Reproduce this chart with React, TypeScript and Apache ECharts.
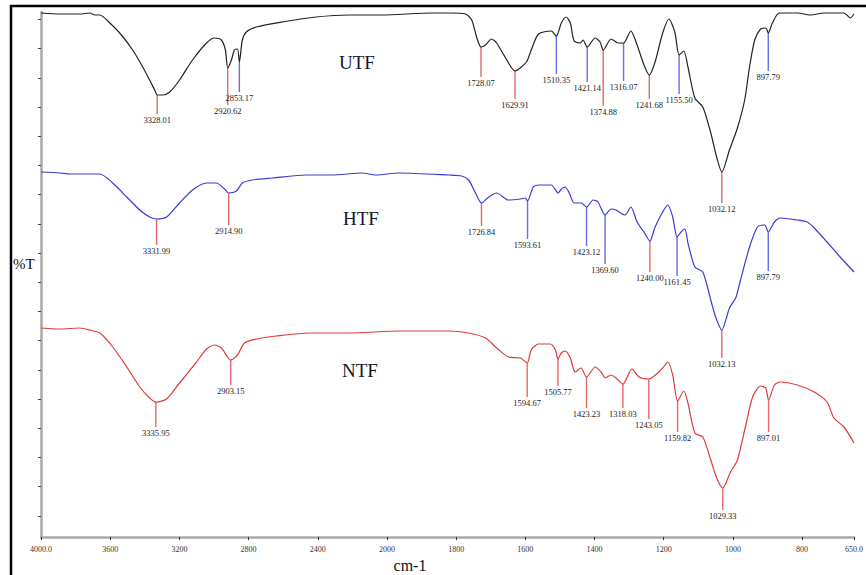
import { useEffect, useRef } from "react";
import * as echarts from "echarts";

// x axis tick wavenumbers (cm-1) and their printed labels
const X_TICK_WAVENUMBERS = [4000, 3600, 3200, 2800, 2400, 2000, 1800, 1600, 1400, 1200, 1000, 800, 650];
const X_TICK_LABELS = ["4000.0", "3600", "3200", "2800", "2400", "2000", "1800", "1600", "1400", "1200", "1000", "800", "650.0"];

// spectra: [wavenumber cm-1, %T (arbitrary offset units)]
const UTF = [
  [4000, 524], [3890, 523], [3775, 523], [3718, 524], [3689, 522], [3660, 522], [3602, 514], [3545, 504],
  [3470, 487], [3412, 470], [3372, 457], [3340, 446], [3328.01, 442], [3297, 442], [3256, 445], [3199, 457],
  [3124, 477], [3043, 494], [2997, 499], [2957, 497], [2934, 487], [2920.62, 469], [2899, 477], [2882, 487],
  [2864, 488], [2853.17, 475], [2836, 497], [2813, 505], [2755, 510], [2605, 515], [2409, 520], [2219, 522],
  [2029, 522], [1870, 524], [1821, 524], [1773, 523], [1755, 517], [1741, 500], [1728.07, 490], [1715, 492],
  [1698, 498], [1683, 494], [1657, 479], [1629.91, 466], [1597, 475], [1583, 487], [1562, 503], [1525, 506],
  [1510.35, 501], [1496, 514], [1482, 520], [1470, 514], [1459, 496], [1441, 494], [1433, 497], [1421.14, 490],
  [1398, 499], [1384, 495], [1374.88, 487], [1352, 498], [1332, 494], [1316.07, 494], [1295, 506], [1280, 495],
  [1257, 472], [1241.68, 462], [1225, 475], [1203, 504], [1185, 518], [1168, 505], [1155.5, 482], [1142, 486],
  [1130, 470], [1110, 439], [1087, 430], [1064, 404], [1047, 380], [1032.12, 365], [1010, 387], [987, 409],
  [966, 437], [952, 470], [937, 497], [920, 508], [905, 509], [897.79, 504], [886, 514], [866, 524],
  [814, 524], [776, 522], [736, 524], [679, 524], [661, 519], [650, 523],
];
const HTF = [
  [4000, 365], [3890, 364], [3833, 363], [3718, 363], [3660, 363], [3585, 354], [3504, 340], [3429, 327],
  [3372, 320], [3331.99, 318], [3274, 320], [3199, 334], [3124, 347], [3043, 354], [2986, 354], [2939, 348],
  [2914.9, 344], [2870, 346], [2836, 354], [2778, 357], [2663, 359], [2467, 362], [2317, 362], [2144, 364],
  [2063, 362], [1965, 364], [1821, 362], [1784, 361], [1764, 357], [1744, 344], [1726.84, 334], [1706, 340],
  [1683, 344], [1649, 337], [1614, 338], [1600, 339], [1593.61, 336], [1577, 350], [1562, 352], [1525, 352],
  [1505, 344], [1496, 348], [1485, 350], [1473, 344], [1459, 334], [1439, 334], [1423.12, 330], [1404, 337],
  [1390, 335], [1369.6, 322], [1352, 328], [1338, 327], [1312, 322], [1295, 330], [1277, 315], [1257, 305],
  [1240.0, 296], [1225, 310], [1203, 325], [1188, 332], [1174, 320], [1161.45, 300], [1150, 305], [1139, 308],
  [1130, 294], [1110, 270], [1087, 265], [1064, 237], [1050, 220], [1032.13, 207], [1010, 229], [992, 239],
  [978, 257], [952, 290], [929, 310], [908, 312], [897.79, 305], [880, 315], [863, 319], [814, 317],
  [785, 315], [765, 309], [728, 295], [690, 280], [650, 265],
];
const NTF = [
  [4000, 209], [3890, 208], [3775, 209], [3718, 207], [3660, 204], [3585, 190], [3504, 170], [3429, 150],
  [3372, 139], [3335.95, 135], [3274, 138], [3199, 154], [3101, 175], [3043, 188], [2997, 192], [2957, 189],
  [2922, 180], [2903.15, 177], [2864, 182], [2824, 194], [2755, 198], [2640, 201], [2449, 204], [2219, 204],
  [1965, 206], [1821, 206], [1764, 204], [1715, 199], [1686, 190], [1649, 180], [1614, 179], [1594.67, 174],
  [1583, 187], [1562, 193], [1528, 193], [1513, 187], [1505.77, 178], [1496, 184], [1485, 186], [1470, 179],
  [1456, 165], [1439, 169], [1423.23, 160], [1398, 170], [1381, 165], [1369, 159], [1352, 162], [1338, 159],
  [1318.03, 153], [1292, 168], [1271, 160], [1243.05, 158], [1217, 164], [1203, 169], [1188, 175], [1174, 162],
  [1159.82, 136], [1142, 146], [1130, 134], [1110, 104], [1087, 100], [1064, 77], [1047, 59], [1029.33, 49],
  [1007, 65], [987, 77], [964, 110], [943, 140], [920, 151], [905, 149], [897.01, 137], [880, 152],
  [863, 155], [814, 152], [765, 145], [728, 135], [708, 119], [679, 110], [650, 94],
];

// labelled peaks (cm-1) and marker colour class (r = red, b = blue)
const UTF_PEAKS = [3328.01, 2920.62, 2853.17, 1728.07, 1629.91, 1510.35, 1421.14, 1374.88, 1316.07, 1241.68, 1155.5, 1032.12, 897.79];
const UTF_PEAK_KIND = ["r", "r", "b", "r", "r", "b", "b", "r", "b", "r", "b", "r", "b"];
const HTF_PEAKS = [3331.99, 2914.9, 1726.84, 1593.61, 1423.12, 1369.6, 1240.0, 1161.45, 1032.13, 897.79];
const HTF_PEAK_KIND = ["r", "r", "r", "b", "b", "b", "r", "b", "r", "b"];
const NTF_PEAKS = [3335.95, 2903.15, 1594.67, 1505.77, 1423.23, 1318.03, 1243.05, 1159.82, 1029.33, 897.01];
const NTF_PEAK_KIND = ["r", "r", "r", "r", "r", "r", "r", "r", "r", "r"];

// layout: marker stem lengths in px
const UTF_STEMS = [19, 37, 30, 30, 28, 38, 35, 56, 38, 24, 39, 31, 38];
const HTF_STEMS = [26, 32, 23, 38, 39, 49, 31, 39, 28, 39];
const NTF_STEMS = [25, 25, 34, 27, 31, 24, 40, 31, 22, 32];

// split-scale axis: 4000-2000 at 400 per division, 2000-650 at 200 per division
const toPos = (w: number) => (w >= 2000 ? (4000 - w) / 400 : 5 + (2000 - w) / 200);

function valueAt(curve: number[][], w: number) {
  for (let i = 0; i < curve.length - 1; i++) {
    const [w0, v0] = curve[i];
    const [w1, v1] = curve[i + 1];
    if (w <= w0 && w >= w1) {
      if (w0 === w1) return v0;
      return v0 + ((w0 - w) / (w0 - w1)) * (v1 - v0);
    }
  }
  return curve[curve.length - 1][1];
}

const STEM_COLORS: Record<string, string> = { r: "#e8676b", b: "#6b6bee" };

export default function App() {
  const ref = useRef<HTMLDivElement>(null);

  useEffect(() => {
    if (!ref.current) return;
    const chart = echarts.init(ref.current, undefined, { renderer: "svg" });

    const lineSeries = (name: string, data: number[][], color: string) => ({
      name,
      type: "line",
      data: data.map(([w, v]) => [toPos(w), v]),
      showSymbol: false,
      smooth: 0.25,
      lineStyle: { color, width: 1.2 },
      z: 3,
    });

    const peakSeries = (curve: number[][], peaks: number[], kinds: string[], stems: number[]) => ({
      type: "custom",
      clip: false,
      z: 2,
      data: peaks.map((w) => [toPos(w), valueAt(curve, w)]),
      encode: { x: 0, y: 1 },
      renderItem: (params: any, api: any) => {
        const i = params.dataIndex;
        const p = api.coord([api.value(0), api.value(1)]);
        const stem = stems[i];
        return {
          type: "group",
          children: [
            {
              type: "line",
              shape: { x1: p[0], y1: p[1], x2: p[0], y2: p[1] + stem },
              style: { stroke: STEM_COLORS[kinds[i]], lineWidth: 1.4 },
            },
            {
              type: "text",
              x: p[0],
              y: p[1] + stem + 1,
              style: {
                text: peaks[i].toFixed(2),
                fill: "#222",
                font: '8.5px "Liberation Serif"',
                align: "center",
                verticalAlign: "top",
              },
            },
          ],
        };
      },
    });

    const yTicks: number[] = [];
    for (let k = 0; k < 18; k++) yTicks.push(517.5 - 29.2 * k);

    chart.setOption({
      animation: false,
      backgroundColor: "#ffffff",
      grid: { left: 41, right: 9, top: 12, bottom: 38 },
      xAxis: {
        type: "value",
        min: 0,
        max: toPos(650),
        axisLine: { lineStyle: { color: "#a9a9a9", width: 2.5 } },
        axisTick: {
          customValues: X_TICK_WAVENUMBERS.map(toPos),
          length: 3,
          lineStyle: { color: "#333", width: 1 },
        },
        axisLabel: {
          customValues: X_TICK_WAVENUMBERS.map(toPos),
          formatter: (v: number) => {
            const i = X_TICK_WAVENUMBERS.findIndex((w) => Math.abs(toPos(w) - v) < 1e-6);
            return i >= 0 ? X_TICK_LABELS[i] : "";
          },
          fontSize: 8,
          fontFamily: "Liberation Serif",
          color: "#333",
          margin: 8,
        },
        splitLine: { show: false },
      },
      yAxis: {
        type: "value",
        min: 0,
        max: 525,
        axisLine: { show: true, lineStyle: { color: "#a9a9a9", width: 2.5 } },
        axisTick: { show: true, customValues: yTicks, length: 3, lineStyle: { color: "#444", width: 1 } },
        axisLabel: { show: false },
        splitLine: { show: false },
      },
      graphic: [
        {
          type: "rect",
          shape: { x: 11, y: 6, width: 900, height: 700 },
          style: { fill: "none", stroke: "#000", lineWidth: 2.5 },
          silent: true,
        },
        { type: "text", x: 357, y: 62, style: { text: "UTF", font: '19px "Liberation Serif"', fill: "#15152a", align: "center", verticalAlign: "middle" } },
        { type: "text", x: 361, y: 218, style: { text: "HTF", font: '19px "Liberation Serif"', fill: "#15152a", align: "center", verticalAlign: "middle" } },
        { type: "text", x: 360, y: 370, style: { text: "NTF", font: '19px "Liberation Serif"', fill: "#15152a", align: "center", verticalAlign: "middle" } },
        { type: "text", x: 13, y: 264, style: { text: "%T", font: '15px "Liberation Serif"', fill: "#111", align: "left", verticalAlign: "middle" } },
        { type: "text", x: 410, y: 565, style: { text: "cm-1", font: '16px "Liberation Serif"', fill: "#111", align: "center", verticalAlign: "middle" } },
      ],
      series: [
        lineSeries("UTF", UTF, "#222222"),
        lineSeries("HTF", HTF, "#3a3ad6"),
        lineSeries("NTF", NTF, "#e03a3a"),
        peakSeries(UTF, UTF_PEAKS, UTF_PEAK_KIND, UTF_STEMS),
        peakSeries(HTF, HTF_PEAKS, HTF_PEAK_KIND, HTF_STEMS),
        peakSeries(NTF, NTF_PEAKS, NTF_PEAK_KIND, NTF_STEMS),
      ],
    });

    return () => chart.dispose();
  }, []);

  return (
    <div
      ref={ref}
      style={{ position: "fixed", left: 0, top: 0, width: 866, height: 575, background: "#fff" }}
    />
  );
}
